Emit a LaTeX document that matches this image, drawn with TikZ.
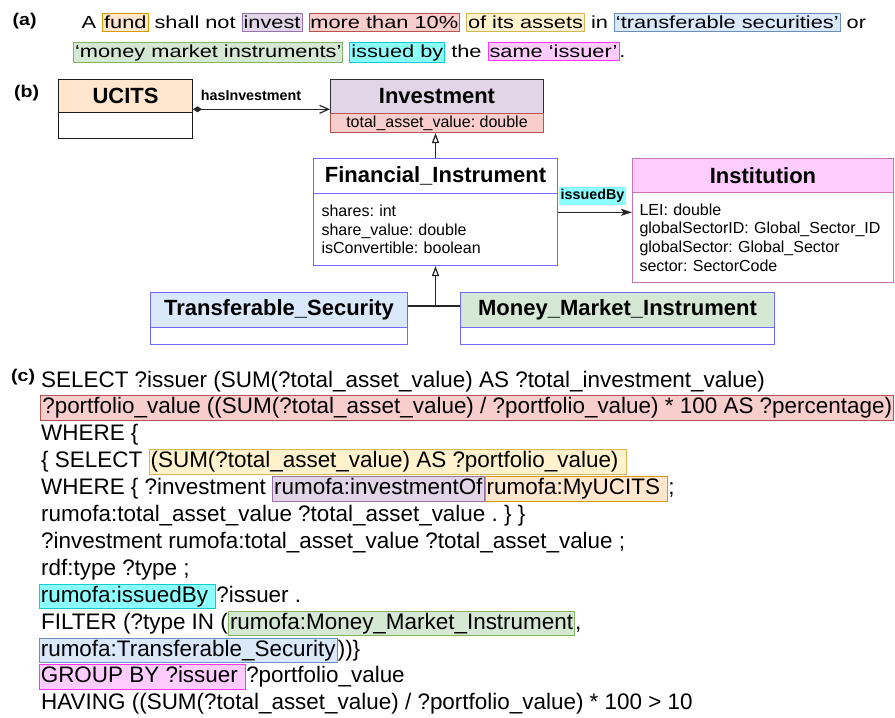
\documentclass[tikz,border=0pt]{standalone}
\usepackage{fontspec}
\setmainfont{Liberation Sans}
\newfontfamily\afontfam{Liberation Sans}[FakeStretch=1.245]
\newfontfamily\labfontfam{Liberation Sans}[FakeStretch=1.15]
\usetikzlibrary{arrows.meta,calc}
\frenchspacing

\definecolor{ucitsfill}{HTML}{FFE6CC}
\definecolor{ucitsdraw}{HTML}{1A1A1A}
\definecolor{orangedraw}{HTML}{D79B00}
\definecolor{invfill}{HTML}{E1D5E7}
\definecolor{invdraw}{HTML}{2E2E2E}
\definecolor{purpledraw}{HTML}{9673A6}
\definecolor{redfill}{HTML}{F8CECC}
\definecolor{reddraw}{HTML}{B85450}
\definecolor{yelfill}{HTML}{FFF2CC}
\definecolor{yeldraw}{HTML}{D6B656}
\definecolor{bluefill}{HTML}{DAE8FC}
\definecolor{bluedraw}{HTML}{6C8EBF}
\definecolor{greenfill}{HTML}{D5E8D4}
\definecolor{greendraw}{HTML}{82B366}
\definecolor{cyanfill}{HTML}{8CFFFF}
\definecolor{cyandraw}{HTML}{10CCCC}
\definecolor{pinkfill}{HTML}{FFCCFF}
\definecolor{pinkdraw}{HTML}{FF33FF}
\definecolor{umlblue}{HTML}{7068FF}
\definecolor{instfill}{HTML}{FFCCFF}
\definecolor{instdraw}{HTML}{C873B4}

\newcommand{\umltitlefnt}{\bfseries\fontsize{22}{26}\selectfont}
\newcommand{\umlattrfnt}{\fontsize{16}{18.7}\selectfont}
\newcommand{\edgefnt}{\bfseries\fontsize{14.3}{17}\selectfont}
\newcommand{\codefnt}{\fontsize{22.45}{26.9}\selectfont}
\newcommand{\sentfnt}{\afontfam\fontsize{17.5}{29}\selectfont}
\newcommand{\secfnt}{\labfontfam\bfseries\fontsize{17}{20}\selectfont}

\newcommand{\hlA}[3]{\begingroup\setlength{\fboxsep}{1pt}\setlength{\fboxrule}{0.9pt}\fcolorbox{#1}{#2}{\rule[-0.13em]{0pt}{0.88em}#3}\endgroup}
\newcommand{\hlC}[3]{\begingroup\setlength{\fboxsep}{1.2pt}\setlength{\fboxrule}{0.9pt}\fcolorbox{#1}{#2}{\rule[-0.22em]{0pt}{0.95em}#3}\endgroup}

\begin{document}
\begin{tikzpicture}[x=1pt,y=-1pt,
  box/.style={draw, line width=1pt, inner sep=0pt, anchor=north west},
  ttl/.style={box, font=\umltitlefnt},
  attr/.style={box, font=\umlattrfnt, align=left, inner xsep=8pt},
  conn/.style={line width=1.2pt, draw=black!85},
  txt/.style={anchor=base west, inner sep=0pt},
  code/.style={txt, font=\codefnt},
  sec/.style={txt, font=\secfnt},
]
\useasboundingbox (0,0) rectangle (895,718);
\fill[white] (0,0) rectangle (895,718);

% ---------- (a) ----------
\node[sec] (la) at (12.5,25) {(a)};
\node[txt, font=\sentfnt] (a1) at (81.5,28) {A \hlA{orangedraw}{ucitsfill}{fund} shall not \hlA{purpledraw}{invfill}{invest} \hlA{reddraw}{redfill}{more than 10\%} \hlA{yeldraw}{yelfill}{of its assets} in \hlA{bluedraw}{bluefill}{‘transferable securities’} or};
\node[txt, font=\sentfnt] (a2) at (73,57) {\hlA{greendraw}{greenfill}{‘money market instruments’} \hlA{cyandraw}{cyanfill}{issued by} the \hlA{pinkdraw}{pinkfill}{same ‘issuer’}.};

% ---------- (b) ----------
\node[sec] (lb) at (14,97) {(b)};

\node[ttl, fill=ucitsfill, draw=ucitsdraw, minimum width=134pt, minimum height=33pt] (ucitsH) at (58,79) {UCITS};
\node[box, draw=ucitsdraw, minimum width=134pt, minimum height=26pt] (ucitsB) at (58,112) {};

\node[ttl, fill=invfill, draw=invdraw, minimum width=213pt, minimum height=34pt] (invH) at (330,79) {Investment};
\node[box, font=\umlattrfnt, fill=redfill, draw=reddraw, minimum width=213pt, minimum height=19pt] (invA) at (330,113) {total\_asset\_value: double};

\node[ttl, draw=umlblue, fill=white, minimum width=244pt, minimum height=35pt] (fiH) at (313,158) {Financial\_Instrument};
\node[attr, draw=umlblue, minimum width=244pt, minimum height=72pt, text width=228pt] (fiB) at (313,193) {shares: int\\share\_value: double\\isConvertible: boolean};

\node[ttl, fill=instfill, draw=instdraw, minimum width=261pt, minimum height=34pt] (instH) at (632,158) {Institution};
\node[attr, draw=instdraw, inner xsep=7pt, minimum width=261pt, minimum height=90pt, text width=247pt] (instB) at (632,192) {LEI: double\\globalSectorID: Global\_Sector\_ID\\globalSector: Global\_Sector\\sector: SectorCode};

\node[ttl, fill=bluefill, draw=umlblue, minimum width=257pt, minimum height=35pt] (tsH) at (150,292) {Transferable\_Security};
\node[box, draw=umlblue, minimum width=257pt, minimum height=17pt] (tsB) at (150,327) {};
\node[ttl, fill=greenfill, draw=umlblue, minimum width=314pt, minimum height=35pt] (mmiH) at (460,292) {Money\_Market\_Instrument};
\node[box, draw=umlblue, minimum width=314pt, minimum height=17pt] (mmiB) at (460,327) {};

% connectors
\draw[conn, {Diamond[length=9pt,width=6pt]}-{Straight Barb[length=9pt,width=8pt]}] ([yshift=3.7pt]ucitsH.south east) -- ([yshift=3.7pt]ucitsH.south east -| invH.west);
\node[txt, font=\edgefnt] (lblHas) at (200.7,100.3) {hasInvestment};

\draw[conn, -{Triangle[open, length=10pt, width=7pt]}] (fiH.north) -- (fiH.north |- invA.south);

\coordinate (junc) at ($(fiB.south)+(0,40)$);
\draw[conn] (tsH.east |- junc) -- (mmiH.west |- junc);
\draw[conn, -{Triangle[open, length=10pt, width=7pt]}] (junc) -- (fiB.south);

\draw[conn, -{Stealth[length=11pt,width=7pt,inset=2.5pt]}] ([yshift=-19.3pt]fiB.north east) -- ([yshift=-19.3pt]fiB.north east -| instB.west);
\node[font=\edgefnt, fill=cyanfill, inner xsep=1.5pt, inner ysep=1.5pt, text height=11pt, text depth=3.5pt, anchor=south west] (lblIss) at (559,205) {issuedBy};

% ---------- (c) ----------
\node[sec] (lc) at (11,381) {(c)};
\node[code] (c1) at (41,387) {SELECT ?issuer (SUM(?total\_asset\_value) AS ?total\_investment\_value)};
\node[code] (c2) at (40,413.9) {\hlC{reddraw}{redfill}{?portfolio\_value ((SUM(?total\_asset\_value) / ?portfolio\_value) * 100 AS ?percentage)}};
\node[code] (c3) at (41,440.8) {WHERE \{};
\node[code] (c4) at (41,467.7) {\{ SELECT \hlC{yeldraw}{yelfill}{(SUM(?total\_asset\_value) AS ?portfolio\_value)\ }};
\node[code] (c5) at (41,494.6) {WHERE \{ ?investment \hlC{purpledraw}{invfill}{rumofa:investmentOf}\hlC{orangedraw}{ucitsfill}{rumofa:MyUCITS\ };};
\node[code] (c6) at (41,521.5) {rumofa:total\_asset\_value ?total\_asset\_value . \} \}};
\node[code] (c7) at (41,548.4) {?investment rumofa:total\_asset\_value ?total\_asset\_value ;};
\node[code] (c8) at (41,575.3) {rdf:type ?type ;};
\node[code] (c9) at (38.5,602.2) {\hlC{cyandraw}{cyanfill}{rumofa:issuedBy\ }?issuer .};
\node[code] (c10) at (41,629.1) {FILTER (?type IN (\hlC{greendraw}{greenfill}{rumofa:Money\_Market\_Instrument},};
\node[code] (c11) at (38.5,656) {\hlC{bluedraw}{bluefill}{rumofa:Transferable\_Security}))\}};
\node[code] (c12) at (38.5,682.9) {\hlC{pinkdraw}{pinkfill}{GROUP BY ?issuer\ }?portfolio\_value};
\node[code] (c13) at (41,709.8) {HAVING ((SUM(?total\_asset\_value) / ?portfolio\_value) * 100 > 10};
\end{tikzpicture}
\end{document}
